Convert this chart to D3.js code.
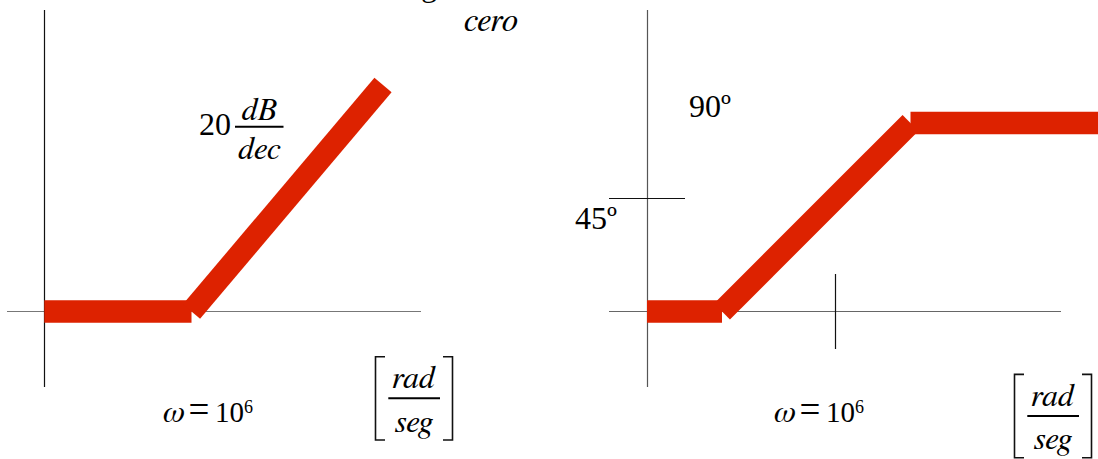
<!DOCTYPE html>
<html><head><meta charset="utf-8">
<script src="https://cdn.jsdelivr.net/npm/d3@7"></script>
<style>body{margin:0;background:#fff;overflow:hidden}</style>
</head>
<body><svg id="c" width="1098" height="459"></svg>
<script>
// ---- data ----
const magOmega = [2.9e4, 1e6, 1e8];        // rad/seg
const magDb = [0, 0, 40];                  // dB
const phaseOmega = [1.6e4, 1e5, 1e7, 1e9]; // rad/seg
const phaseDeg = [0, 0, 90, 90];           // degrees
const phaseTickDeg = [54];
const phaseTickLabels = ["45º"];
const phaseTopLabel = "90º";
const phaseTickOmega = [1.6e6];
const slopeNumber = "20";
const slopeUnits = ["dB", "dec"];
const omegaLabel = ["ω", "=", "10", "6"];
const unitLabel = ["rad", "seg"];
const topText = ["g", "cero"];

const RED = "#dd2200";
const FONT_R = "'Liberation Serif', FreeSerif, serif";
const FONT_I = "FreeSerif, 'Liberation Serif', serif";
const svg = d3.select("#c");

const xL = d3.scaleLog().domain([1e6, 1e8]).range([191.5, 383]);
const yL = d3.scaleLinear().domain([0, 40]).range([311.5, 85]);
const xR = d3.scaleLog().domain([1e5, 1e7]).range([722, 910.5]);
const yR = d3.scaleLinear().domain([0, 90]).range([311.5, 123]);

function txt(g, x, y, size, s, opts = {}) {
  return g.append("text").attr("x", x).attr("y", y)
    .style("font-family", opts.italic ? FONT_I : FONT_R).style("font-size", size + "px")
    .style("font-style", opts.italic ? "italic" : "normal")
    .style("fill", "#000")
    .attr("text-anchor", opts.anchor || "start").text(s);
}

// ---- left panel (magnitude) ----
const gL = svg.append("g");
const axL = Math.round(xL(magOmega[0])) + 0.5;
gL.append("line").attr("x1", 7).attr("x2", 421).attr("y1", yL(0)).attr("y2", yL(0))
  .attr("stroke", "#777").attr("stroke-width", 1.2);
gL.append("line").attr("x1", axL).attr("x2", axL).attr("y1", 10).attr("y2", 387)
  .attr("stroke", "#111").attr("stroke-width", 1.2);

const magPts = magOmega.map((w, i) => [xL(w), yL(magDb[i])]);
for (let i = 0; i < magPts.length - 1; i++) {
  gL.append("path").attr("d", d3.line()([magPts[i], magPts[i + 1]]))
    .attr("stroke", RED).attr("stroke-width", 22.5).attr("stroke-linecap", "butt").attr("fill", "none");
}

// slope label 20 dB/dec
txt(gL, 199, 135, 32, slopeNumber);
txt(gL, 259, 120, 32, slopeUnits[0], {italic: true, anchor: "middle"});
gL.append("line").attr("x1", 235).attr("x2", 283.5).attr("y1", 126.7).attr("y2", 126.7)
  .attr("stroke", "#000").attr("stroke-width", 2);
txt(gL, 259, 159, 32, slopeUnits[1], {italic: true, anchor: "middle"});

// top texts
txt(svg, 421, -4, 32, topText[0]);
txt(svg, 464, 31, 33, topText[1], {italic: true});

// ---- right panel (phase) ----
const gR = svg.append("g");
const axR = Math.round(xR(phaseOmega[0])) + 0.5;
gR.append("line").attr("x1", 609).attr("x2", 1061).attr("y1", yR(0)).attr("y2", yR(0))
  .attr("stroke", "#666").attr("stroke-width", 1.2);
gR.append("line").attr("x1", axR).attr("x2", axR).attr("y1", 10).attr("y2", 387)
  .attr("stroke", "#555").attr("stroke-width", 1.2);

phaseTickDeg.forEach((d, i) => {
  const y = Math.round(yR(d)) + 0.5;
  gR.append("line").attr("x1", 609).attr("x2", 685).attr("y1", y).attr("y2", y)
    .attr("stroke", "#111").attr("stroke-width", 1.2);
  txt(gR, 575, y + 30, 32, phaseTickLabels[i]);
});
phaseTickOmega.forEach(w => {
  const x = Math.round(xR(w)) + 0.5;
  gR.append("line").attr("x1", x).attr("x2", x).attr("y1", 274).attr("y2", 349)
    .attr("stroke", "#111").attr("stroke-width", 1.2);
});

const phPts = phaseOmega.map((w, i) => [xR(w), yR(phaseDeg[i])]);
for (let i = 0; i < phPts.length - 1; i++) {
  gR.append("path").attr("d", d3.line()([phPts[i], phPts[i + 1]]))
    .attr("stroke", RED).attr("stroke-width", 22.5).attr("stroke-linecap", "butt").attr("fill", "none");
}
txt(gR, 689, 117, 32, phaseTopLabel);

// ---- frequency labels (both panels) ----
function omegaText(dx) {
  const g = svg.append("g").attr("transform", `translate(${dx},0)`);
  txt(g, 163, 421.7, 32, omegaLabel[0], {italic: true});
  txt(g, 188.5, 422, 37, omegaLabel[1]);
  txt(g, 215, 421.7, 29, omegaLabel[2]);
  txt(g, 244, 413, 18, omegaLabel[3]);
}
omegaText(0);
omegaText(611);

function unitText(dx, dy) {
  const g = svg.append("g").attr("transform", `translate(${dx},${dy})`);
  const br = d3.path();
  br.moveTo(385, 356.7); br.lineTo(375.5, 356.7); br.lineTo(375.5, 440); br.lineTo(385, 440);
  br.moveTo(443, 356.7); br.lineTo(452.5, 356.7); br.lineTo(452.5, 440); br.lineTo(443, 440);
  g.append("path").attr("d", br.toString()).attr("fill", "none").attr("stroke", "#111").attr("stroke-width", 1.6);
  g.append("line").attr("x1", 388.3).attr("x2", 440).attr("y1", 398.3).attr("y2", 398.3)
    .attr("stroke", "#000").attr("stroke-width", 2);
  txt(g, 413.5, 388.3, 32, unitLabel[0], {italic: true, anchor: "middle"});
  txt(g, 414, 431.7, 32, unitLabel[1], {italic: true, anchor: "middle"});
}
unitText(0, 0);
unitText(639, 17.7);
</script></body></html>
